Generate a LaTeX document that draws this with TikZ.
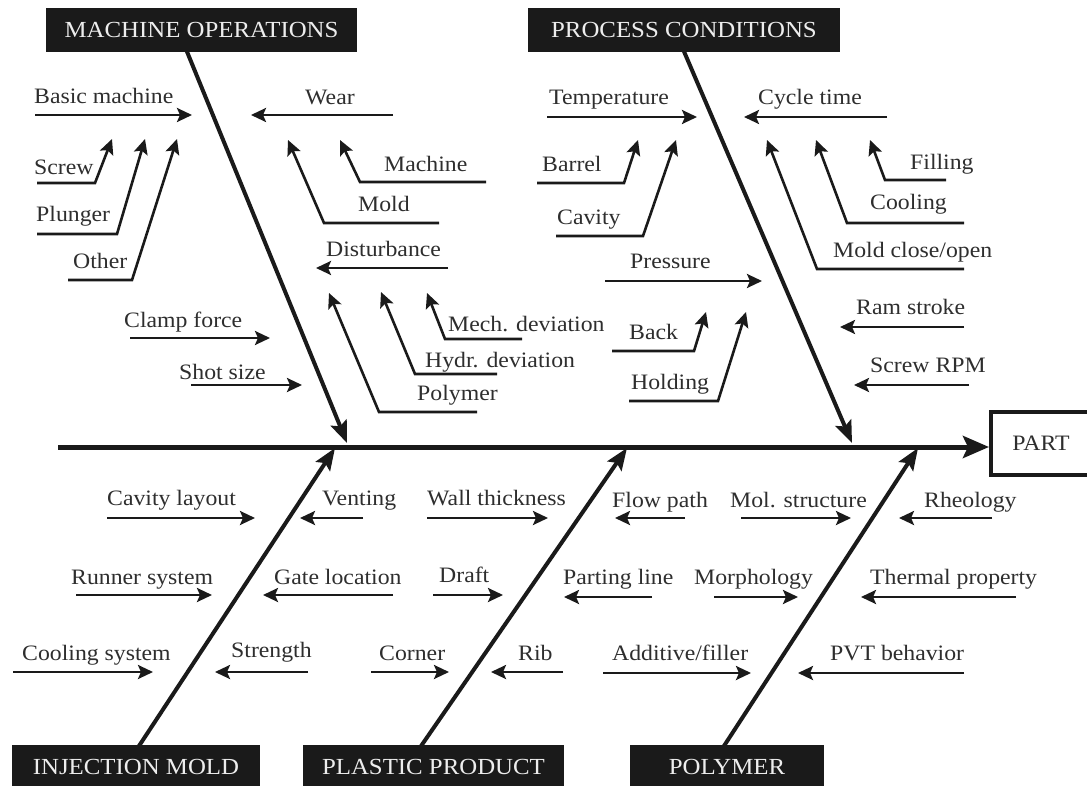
\documentclass[tikz,border=0pt]{standalone}
\usepackage{fontspec}
\setmainfont[FakeStretch=1.08]{Liberation Serif}
\usetikzlibrary{arrows.meta}
\definecolor{ln}{HTML}{1A1A1A}
\definecolor{txt}{HTML}{2E2E2E}
\definecolor{hdrtxt}{HTML}{EDEDED}
\tikzset{
  lbl/.style={anchor=base west, inner sep=0pt, text=txt, font=\fontsize{22}{24}\selectfont},
  br/.style={line width=2.6pt, draw=ln, line join=miter, -{Stealth[length=15pt,width=14pt,inset=3pt]}},
  bone/.style={line width=4pt, draw=ln, -{Stealth[length=22pt,width=17pt,inset=4pt]}},
  spine/.style={line width=5pt, draw=ln, -{Stealth[length=26pt,width=22pt,inset=5pt]}},
  hdr/.style={fill=ln, text=hdrtxt, inner sep=0pt, minimum height=44pt, font=\fontsize{23}{25}\selectfont},
  partbox/.style={draw=ln, line width=4pt, fill=white, inner sep=0pt, minimum width=100pt, minimum height=63pt, text=txt, font=\fontsize{22}{24}\selectfont}
}
\newcommand\hbr[7]{%
  \node[lbl] (#1) at (#3,#4) {#2};
  \coordinate (#1-s) at (#5,#7);
  \coordinate (#1-e) at (#6,#7);
  \draw[br] (#1-s) -- (#1-e);}
\newcommand\bbr[9]{%
  \node[lbl] (#1) at (#3,#4) {#2};
  \coordinate (#1-s) at (#5,#7);
  \coordinate (#1-c) at (#6,#7);
  \coordinate (#1-e) at (#8,#9);
  \draw[br] (#1-s) -- (#1-c) -- (#1-e);}
\begin{document}
\begin{tikzpicture}[x=1pt,y=-1pt]
\useasboundingbox (0,0) rectangle (1087,786);
\clip (0,0) rectangle (1087,786);
\fill[white] (0,0) rectangle (1087,786);

% main bones (drawn first, headers cover their ends)
\coordinate (mo-a) at (185.5,48);  \coordinate (mo-b) at (347,443);
\coordinate (pc-a) at (682.5,48);  \coordinate (pc-b) at (852,443);
\coordinate (im-a) at (137,749);   \coordinate (im-b) at (335,448);
\coordinate (pp-a) at (419,749);   \coordinate (pp-b) at (627,448);
\coordinate (po-a) at (722,749);   \coordinate (po-b) at (918,448);
\draw[bone] (mo-a) -- (mo-b);
\draw[bone] (pc-a) -- (pc-b);
\draw[bone] (im-a) -- (im-b);
\draw[bone] (pp-a) -- (pp-b);
\draw[bone] (po-a) -- (po-b);

% headers
\node[hdr, minimum width=311pt] (mo) at (201.5,30) {MACHINE OPERATIONS};
\node[hdr, minimum width=312pt] (pc) at (684,30) {PROCESS CONDITIONS};
\node[hdr, minimum width=248pt] (im) at (136,767) {INJECTION MOLD};
\node[hdr, minimum width=261pt] (pp) at (433.5,767) {PLASTIC PRODUCT};
\node[hdr, minimum width=194pt] (po) at (727,767) {POLYMER};

% effect box and spine
\node[partbox] (part) at (1041,443.5) {PART};
\coordinate (s0) at (58,447);
\draw[spine] (s0) -- (s0 -| part.west);

% machine operations
\hbr{basic}{Basic machine}{34}{104}{35}{192}{115}
\hbr{wear}{Wear}{305}{105}{393}{251}{115}
\bbr{screw}{Screw}{34}{175}{37}{95}{183}{112}{139}
\bbr{plunger}{Plunger}{36}{222}{37}{117}{234}{145}{139}
\bbr{other}{Other}{73}{269}{68}{132}{280}{177}{139}
\bbr{machine}{Machine}{384}{172}{486}{360}{182}{340}{140}
\bbr{mold}{Mold}{358}{212}{439}{324}{223}{288}{140}
\hbr{dist}{Disturbance}{326}{257}{448}{316}{268}
\bbr{mech}{Mech. deviation}{448}{331}{522}{445}{339}{427}{293}
\bbr{hydr}{Hydr. deviation}{425}{367}{497}{415}{374}{381}{292}
\bbr{poly}{Polymer}{417}{400}{477}{379}{412}{329}{293}
\hbr{clamp}{Clamp force}{124}{327}{130}{270}{338}
\hbr{shot}{Shot size}{179}{379}{191}{302}{385}

% process conditions
\hbr{temp}{Temperature}{549}{105}{547}{697}{117}
\hbr{cycle}{Cycle time}{758}{105}{887}{744}{117}
\bbr{barrel}{Barrel}{542}{172}{537}{624}{183}{638}{140}
\bbr{cavity}{Cavity}{557}{225}{556}{643}{236}{676}{140}
\bbr{filling}{Filling}{910}{170}{946}{885}{180}{870}{140}
\bbr{cooling}{Cooling}{870}{210}{964}{847}{223}{816}{140}
\bbr{moldco}{Mold close/open}{833}{258}{964}{817}{269}{767}{140}
\hbr{press}{Pressure}{630}{269}{605}{762}{281}
\bbr{back}{Back}{629}{340}{612}{694}{351}{706}{312}
\bbr{holding}{Holding}{631}{389}{629}{718}{401}{746}{312}
\hbr{ram}{Ram stroke}{856}{315}{964}{840}{327}
\hbr{srpm}{Screw RPM}{870}{372}{969}{854}{385}

% injection mold
\hbr{cavlay}{Cavity layout}{107}{505}{107}{255}{518}
\hbr{vent}{Venting}{322}{505}{363}{300}{518}
\hbr{runner}{Runner system}{71}{584}{76}{212}{595}
\hbr{gate}{Gate location}{274}{584}{393}{263}{595}
\hbr{coolsys}{Cooling system}{22}{660}{13}{153}{672}
\hbr{strength}{Strength}{231}{657}{308}{215}{672}

% plastic product
\hbr{wall}{Wall thickness}{427}{505}{427}{548}{518}
\hbr{draft}{Draft}{439}{582}{433}{503}{595}
\hbr{corner}{Corner}{379}{660}{371}{449}{672}
\hbr{rib}{Rib}{518}{660}{563}{491}{672}
\hbr{flow}{Flow path}{612}{507}{685}{615}{518}
\hbr{parting}{Parting line}{563}{584}{652}{564}{597}

% polymer
\hbr{mol}{Mol. structure}{730}{507}{741}{851}{518}
\hbr{rheo}{Rheology}{924}{507}{992}{899}{518}
\hbr{morph}{Morphology}{694}{584}{714}{798}{597}
\hbr{thermal}{Thermal property}{870}{584}{1016}{861}{597}
\hbr{additive}{Additive/filler}{612}{660}{603}{751}{673}
\hbr{pvt}{PVT behavior}{830}{660}{964}{798}{673}
\end{tikzpicture}
\end{document}
